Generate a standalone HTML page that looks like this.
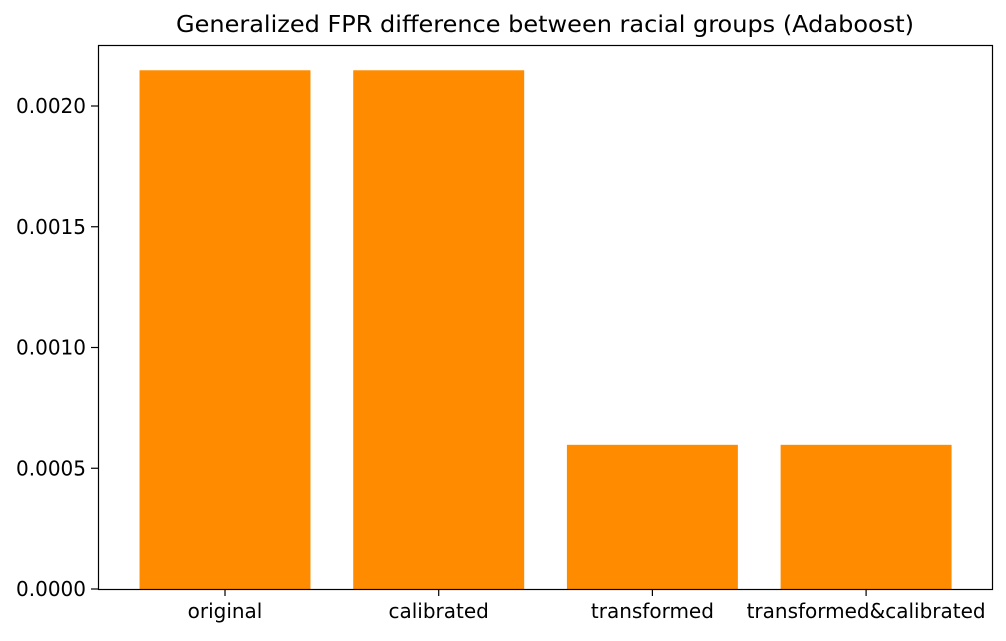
<!DOCTYPE html>
<html><head><meta charset="utf-8"><style>
body{margin:0;background:#fff;}
svg text{font-family:"DejaVu Sans","Liberation Sans",sans-serif;fill:#000;}
</style></head><body>
<svg id="chart" width="1006" height="636" xmlns="http://www.w3.org/2000/svg">
<text x="545" y="32" font-size="23.5" text-anchor="middle" textLength="738" lengthAdjust="spacingAndGlyphs">Generalized FPR difference between racial groups (Adaboost)</text>
<g id="bars"></g>
<g id="axes"></g>
<rect x="98.5" y="45.5" width="894" height="544" fill="none" stroke="#000" stroke-width="1.2"/>
</svg>
<script>
const categories = ["original","calibrated","transformed","transformed&calibrated"];
const values = [0.002148, 0.002148, 0.000597, 0.000597];
const yTicks = [0, 0.0005, 0.001, 0.0015, 0.002];
const yTickLabels = ["0.0000","0.0005","0.0010","0.0015","0.0020"];

const NS="http://www.w3.org/2000/svg";
const y0=589, pxPerUnit=(589-106)/0.002;
const yScale=v=>y0-v*pxPerUnit;
const x0=225, step=213.7;
const xScale=i=>x0+i*step;
const barW=0.8*step;
const bars=document.getElementById('bars'), axes=document.getElementById('axes');
function mk(tag,attrs,parent){const e=document.createElementNS(NS,tag);for(const k in attrs)e.setAttribute(k,attrs[k]);parent.appendChild(e);return e;}
categories.forEach((c,i)=>{
  const r=mk('rect',{x:xScale(i)-barW/2,y:yScale(values[i]),width:barW,height:y0-yScale(values[i]),fill:'#ff8c00'},bars);
  
  
  const t=mk('line',{x1:xScale(i),x2:xScale(i),y1:589,y2:596,stroke:'#000','stroke-width':1.2},axes);
  
  
  const l=mk('text',{x:xScale(i),y:618,'font-size':20,'text-anchor':'middle'},axes);
  l.textContent=c;
  
  
});
yTicks.forEach((v,i)=>{
  const y=yScale(v);
  const t=mk('line',{x1:91,x2:98,y1:y,y2:y,stroke:'#000','stroke-width':1.2},axes);
  
  
  const l=mk('text',{x:86,y:y+7,'font-size':20,'text-anchor':'end'},axes);
  l.textContent=yTickLabels[i];
  
  
});
</script>
</body></html>
